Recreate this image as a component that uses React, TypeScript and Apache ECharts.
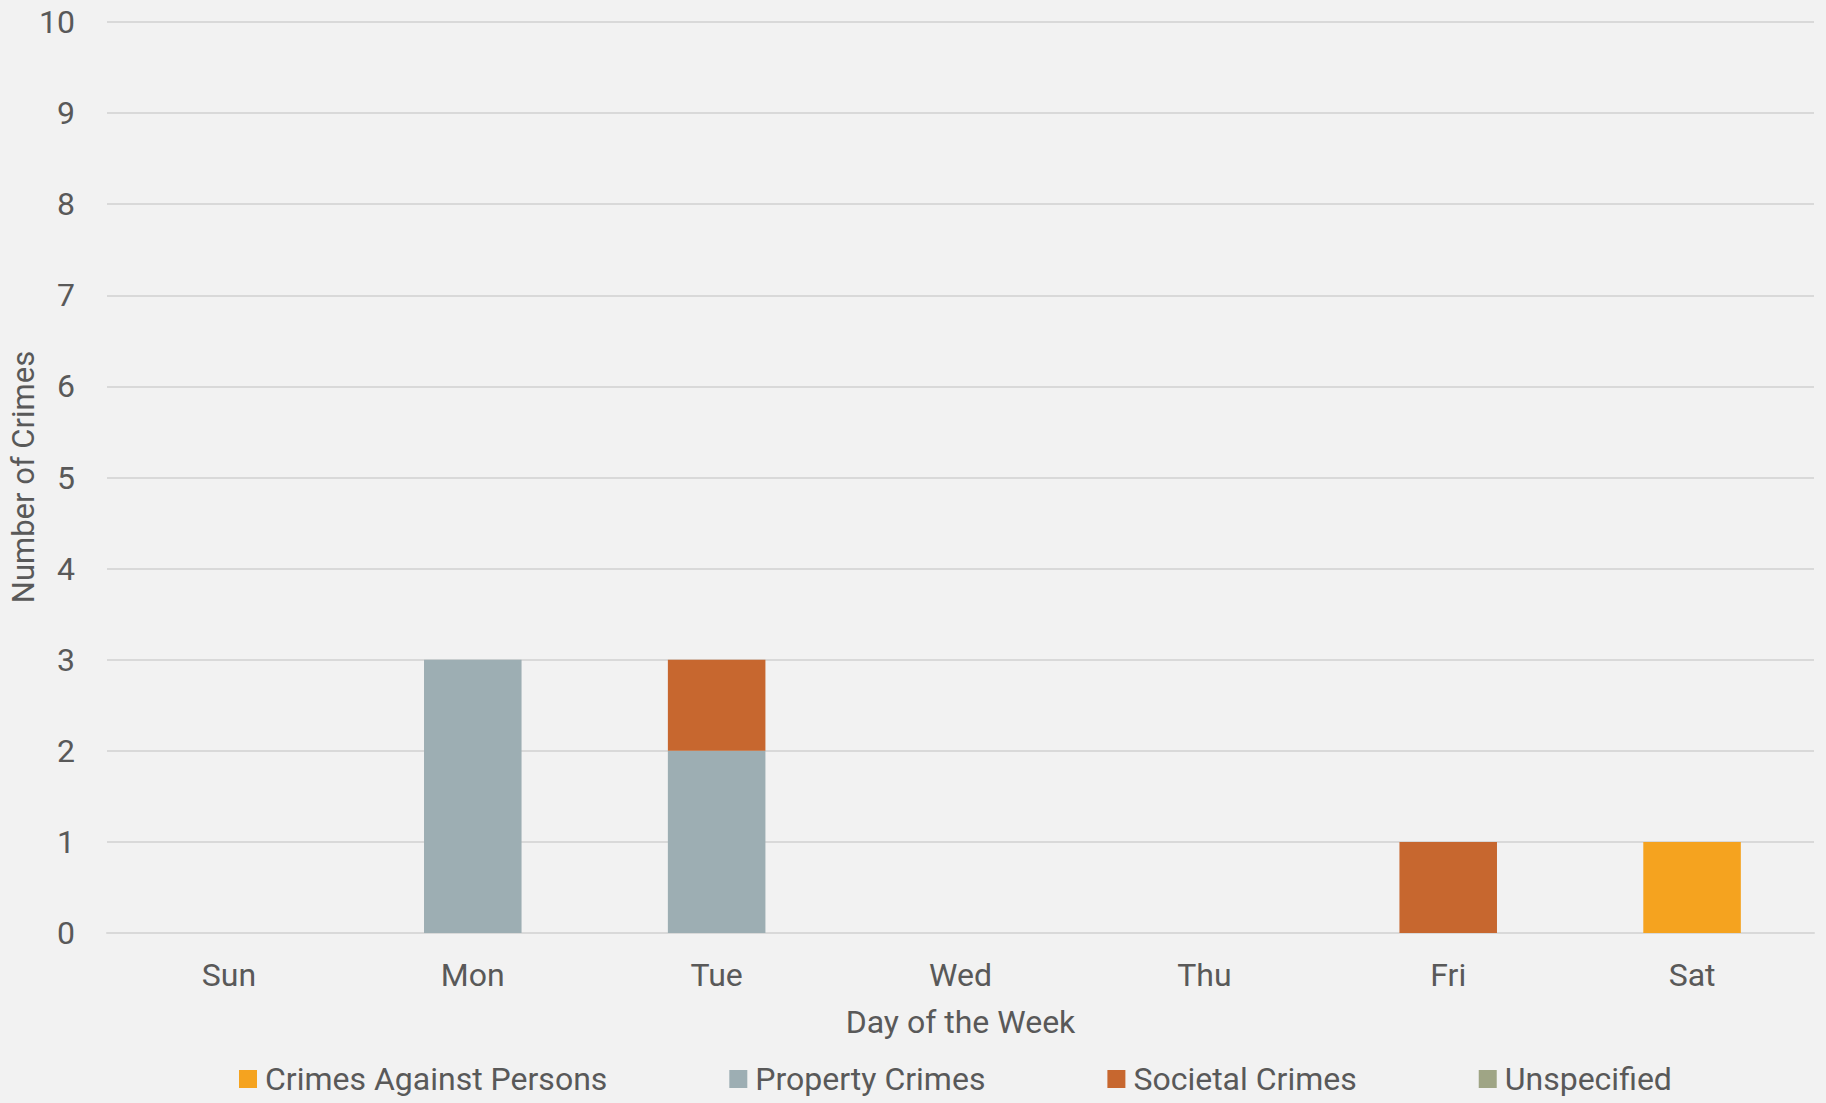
import React, { useEffect, useRef } from "react";
import * as echarts from "echarts";

const days = ["Sun", "Mon", "Tue", "Wed", "Thu", "Fri", "Sat"];
const crimesAgainstPersons = [0, 0, 0, 0, 0, 0, 1];
const propertyCrimes = [0, 3, 2, 0, 0, 0, 0];
const societalCrimes = [0, 0, 1, 0, 0, 1, 0];
const unspecified = [0, 0, 0, 0, 0, 0, 0];
const seriesNames = ["Crimes Against Persons", "Property Crimes", "Societal Crimes", "Unspecified"];
const seriesColors = ["#F5A31F", "#9DAEB3", "#C7672F", "#9FA585"];
const yTitle = "Number of Crimes";

const FONT = "Roboto";
const TXT = "#595959";

export default function App() {
  const ref = useRef<HTMLDivElement>(null);
  useEffect(() => {
    if (!ref.current) return;
    const chart = echarts.init(ref.current, undefined, { renderer: "svg" });
    const values = [crimesAgainstPersons, propertyCrimes, societalCrimes, unspecified];
    chart.setOption({
      animation: false,
      backgroundColor: "#F2F2F2",
      textStyle: { fontFamily: FONT },
      grid: { left: 107, right: 12, top: 22, bottom: 170, outerBoundsMode: "none", containLabel: false },
      legend: {
        data: seriesNames,
        left: 234,
        top: 1058,
        itemWidth: 18,
        itemHeight: 18,
        itemGap: 122,
        icon: "rect",
        textStyle: { fontFamily: FONT, fontSize: 32, color: TXT, lineHeight: 32, padding: [0, 0, 0, 3] },
      },
      graphic: [
        {
          type: "text",
          x: 23,
          y: 477,
          rotation: Math.PI / 2,
          style: {
            text: yTitle,
            fontFamily: FONT,
            fontSize: 31,
            fill: TXT,
            align: "center",
            verticalAlign: "middle",
          },
        },
      ],
      xAxis: {
        type: "category",
        data: days,
        name: "Day of the Week",
        nameLocation: "middle",
        nameGap: 73,
        nameTextStyle: { fontFamily: FONT, fontSize: 32, color: TXT },
        axisLine: { show: true, lineStyle: { color: "#D9D9D9", width: 2 } },
        axisTick: { show: false },
        axisLabel: { color: TXT, fontSize: 32, fontFamily: FONT, margin: 26 },
      },
      yAxis: {
        type: "value",
        min: 0,
        max: 10,
        interval: 1,
        axisLine: { show: false },
        axisTick: { show: false },
        axisLabel: { color: TXT, fontSize: 32, fontFamily: FONT, margin: 32 },
        splitLine: { lineStyle: { color: "#D9D9D9", width: 2 } },
      },
      series: seriesNames.map((name, i) => ({
        name,
        type: "bar",
        stack: "total",
        barWidth: "40%",
        itemStyle: { color: seriesColors[i] },
        data: values[i].map((v) => (v === 0 ? null : v)),
      })),
    });
    return () => chart.dispose();
  }, []);
  return (
    <div
      ref={ref}
      style={{ position: "absolute", left: 0, top: 0, width: 1826, height: 1103 }}
    />
  );
}
